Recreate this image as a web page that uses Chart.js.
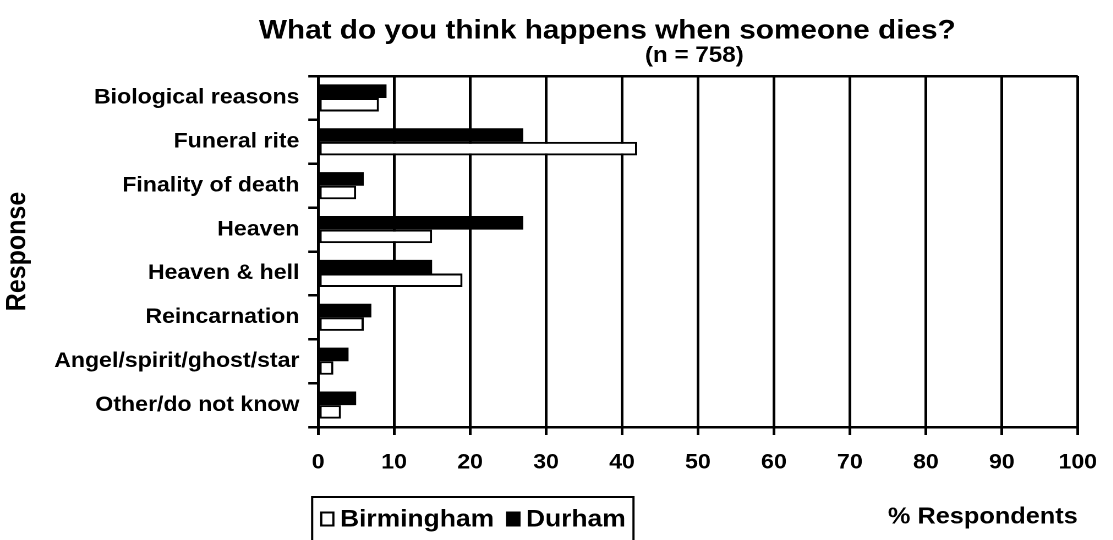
<!DOCTYPE html>
<html>
<head>
<meta charset="utf-8">
<script src="https://cdn.jsdelivr.net/npm/chart.js@4.4.1/dist/chart.umd.min.js"></script>
<style>
  html, body { margin: 0; padding: 0; background: #fff; overflow: hidden; }
  #wrap { position: absolute; left: 0; top: 0; height: 540px; transform-origin: 0 0; }
</style>
</head>
<body>
<div id="wrap"><canvas id="chart"></canvas></div>
<script>
// Survey responses, percent of respondents per city
const categories = [
  'Biological reasons',
  'Funeral rite',
  'Finality of death',
  'Heaven',
  'Heaven & hell',
  'Reincarnation',
  'Angel/spirit/ghost/star',
  'Other/do not know'
];
const durham     = [9, 27, 6, 27, 15, 7, 4, 5];
const birmingham = [8, 42, 5, 15, 19, 6, 2, 3];
const seriesNames = ['Durham', 'Birmingham'];

const xMin = 0, xMax = 100, xStep = 10;
const titleText = 'What do you think happens when someone dies?';
const subtitleText = '(n = 758)';
const xTitle = '% Respondents';
const yTitle = 'Response';

// The figure is set in a slightly wide face: draw narrow, then widen the canvas.
const STRETCH = 1.1;
const PAGE_W = 1113;
const W = PAGE_W / STRETCH;
const wrap = document.getElementById('wrap');
wrap.style.width = W + 'px';
wrap.style.transform = 'scaleX(' + STRETCH + ')';
const px = v => v / STRETCH;   // page x -> canvas x

const FAMILY = '"Liberation Sans", Arial, Helvetica, sans-serif';
const INK = '#000';

// Two-line heading above the plot
const headingPlugin = {
  id: 'heading',
  afterDraw(chart) {
    const c = chart.ctx;
    c.save();
    c.fillStyle = INK;
    c.textAlign = 'center';
    c.textBaseline = 'middle';
    c.font = 'bold 27px ' + FAMILY;
    c.fillText(titleText, px(607), 31);
    c.font = 'bold 22px ' + FAMILY;
    c.fillText(subtitleText, px(694), 56);
    c.restore();
  }
};

// Boxed legend under the axis, items in reverse dataset order
const boxedLegendPlugin = {
  id: 'boxedLegend',
  afterDraw(chart) {
    const c = chart.ctx;
    const sets = chart.data.datasets.slice().reverse();
    c.save();
    c.font = 'bold 24px ' + FAMILY;
    c.textBaseline = 'middle';
    c.textAlign = 'left';
    const midY = 519;
    const boxW = 13, boxH = 15;
    let x = px(320);
    sets.forEach(ds => {
      c.fillStyle = ds.backgroundColor;
      c.fillRect(x, midY - boxH / 2, boxW, boxH);
      c.strokeStyle = INK;
      c.lineWidth = 2;
      c.strokeRect(x + 1, midY - boxH / 2 + 1, boxW - 2, boxH - 2);
      x += boxW + 5;
      c.fillStyle = INK;
      c.fillText(ds.label, x, midY + 1);
      x += c.measureText(ds.label).width + 11;
    });
    c.strokeStyle = INK;
    c.lineWidth = 2;
    c.strokeRect(px(312), 497, x - 4 - px(312), 60);
    c.restore();
  }
};

new Chart(document.getElementById('chart'), {
  type: 'bar',
  data: {
    labels: categories,
    datasets: [
      { label: seriesNames[0], data: durham, backgroundColor: '#000', borderColor: '#000', borderWidth: 0 },
      { label: seriesNames[1], data: birmingham, backgroundColor: '#fff', borderColor: '#000', borderWidth: 2, borderSkipped: false }
    ]
  },
  options: {
    indexAxis: 'y',
    responsive: true,
    maintainAspectRatio: false,
    animation: false,
    devicePixelRatio: 2,
    layout: { padding: { left: 0, right: px(PAGE_W - 1079), top: 76, bottom: 0 } },
    datasets: { bar: { categoryPercentage: 0.62, barPercentage: 1 } },
    plugins: {
      legend: { display: false },
      title: { display: false },
      tooltip: { enabled: false }
    },
    scales: {
      x: {
        type: 'linear',
        min: xMin,
        max: xMax,
        ticks: {
          stepSize: xStep,
          color: INK,
          padding: 15,
          font: { family: FAMILY, size: 21, weight: 'bold' }
        },
        grid: { color: INK, lineWidth: 2.5, tickLength: 8, tickColor: INK },
        border: { color: INK, width: 2.5 },
        title: {
          display: true,
          text: xTitle,
          align: 'end',
          color: INK,
          font: { family: FAMILY, size: 23, weight: 'bold' },
          padding: { top: 0, bottom: 9 }
        },
        afterFit(scale) { scale.height = 540 - 427; }
      },
      y: {
        type: 'category',
        ticks: {
          color: INK,
          padding: 8,
          font: { family: FAMILY, size: 21, weight: 'bold' }
        },
        grid: {
          offset: true,
          lineWidth: 2.5,
          tickLength: 9,
          tickColor: INK,
          color: ctx => (ctx.index === 0 ? INK : 'rgba(0,0,0,0)')
        },
        border: { color: INK, width: 2.5 },
        title: {
          display: true,
          text: yTitle,
          color: INK,
          font: { family: FAMILY, size: 25, weight: 'bold' },
          padding: { top: 1, bottom: 0 }
        },
        afterFit(scale) { scale.width = px(318); }
      }
    }
  },
  plugins: [headingPlugin, boxedLegendPlugin]
});
</script>
</body>
</html>
